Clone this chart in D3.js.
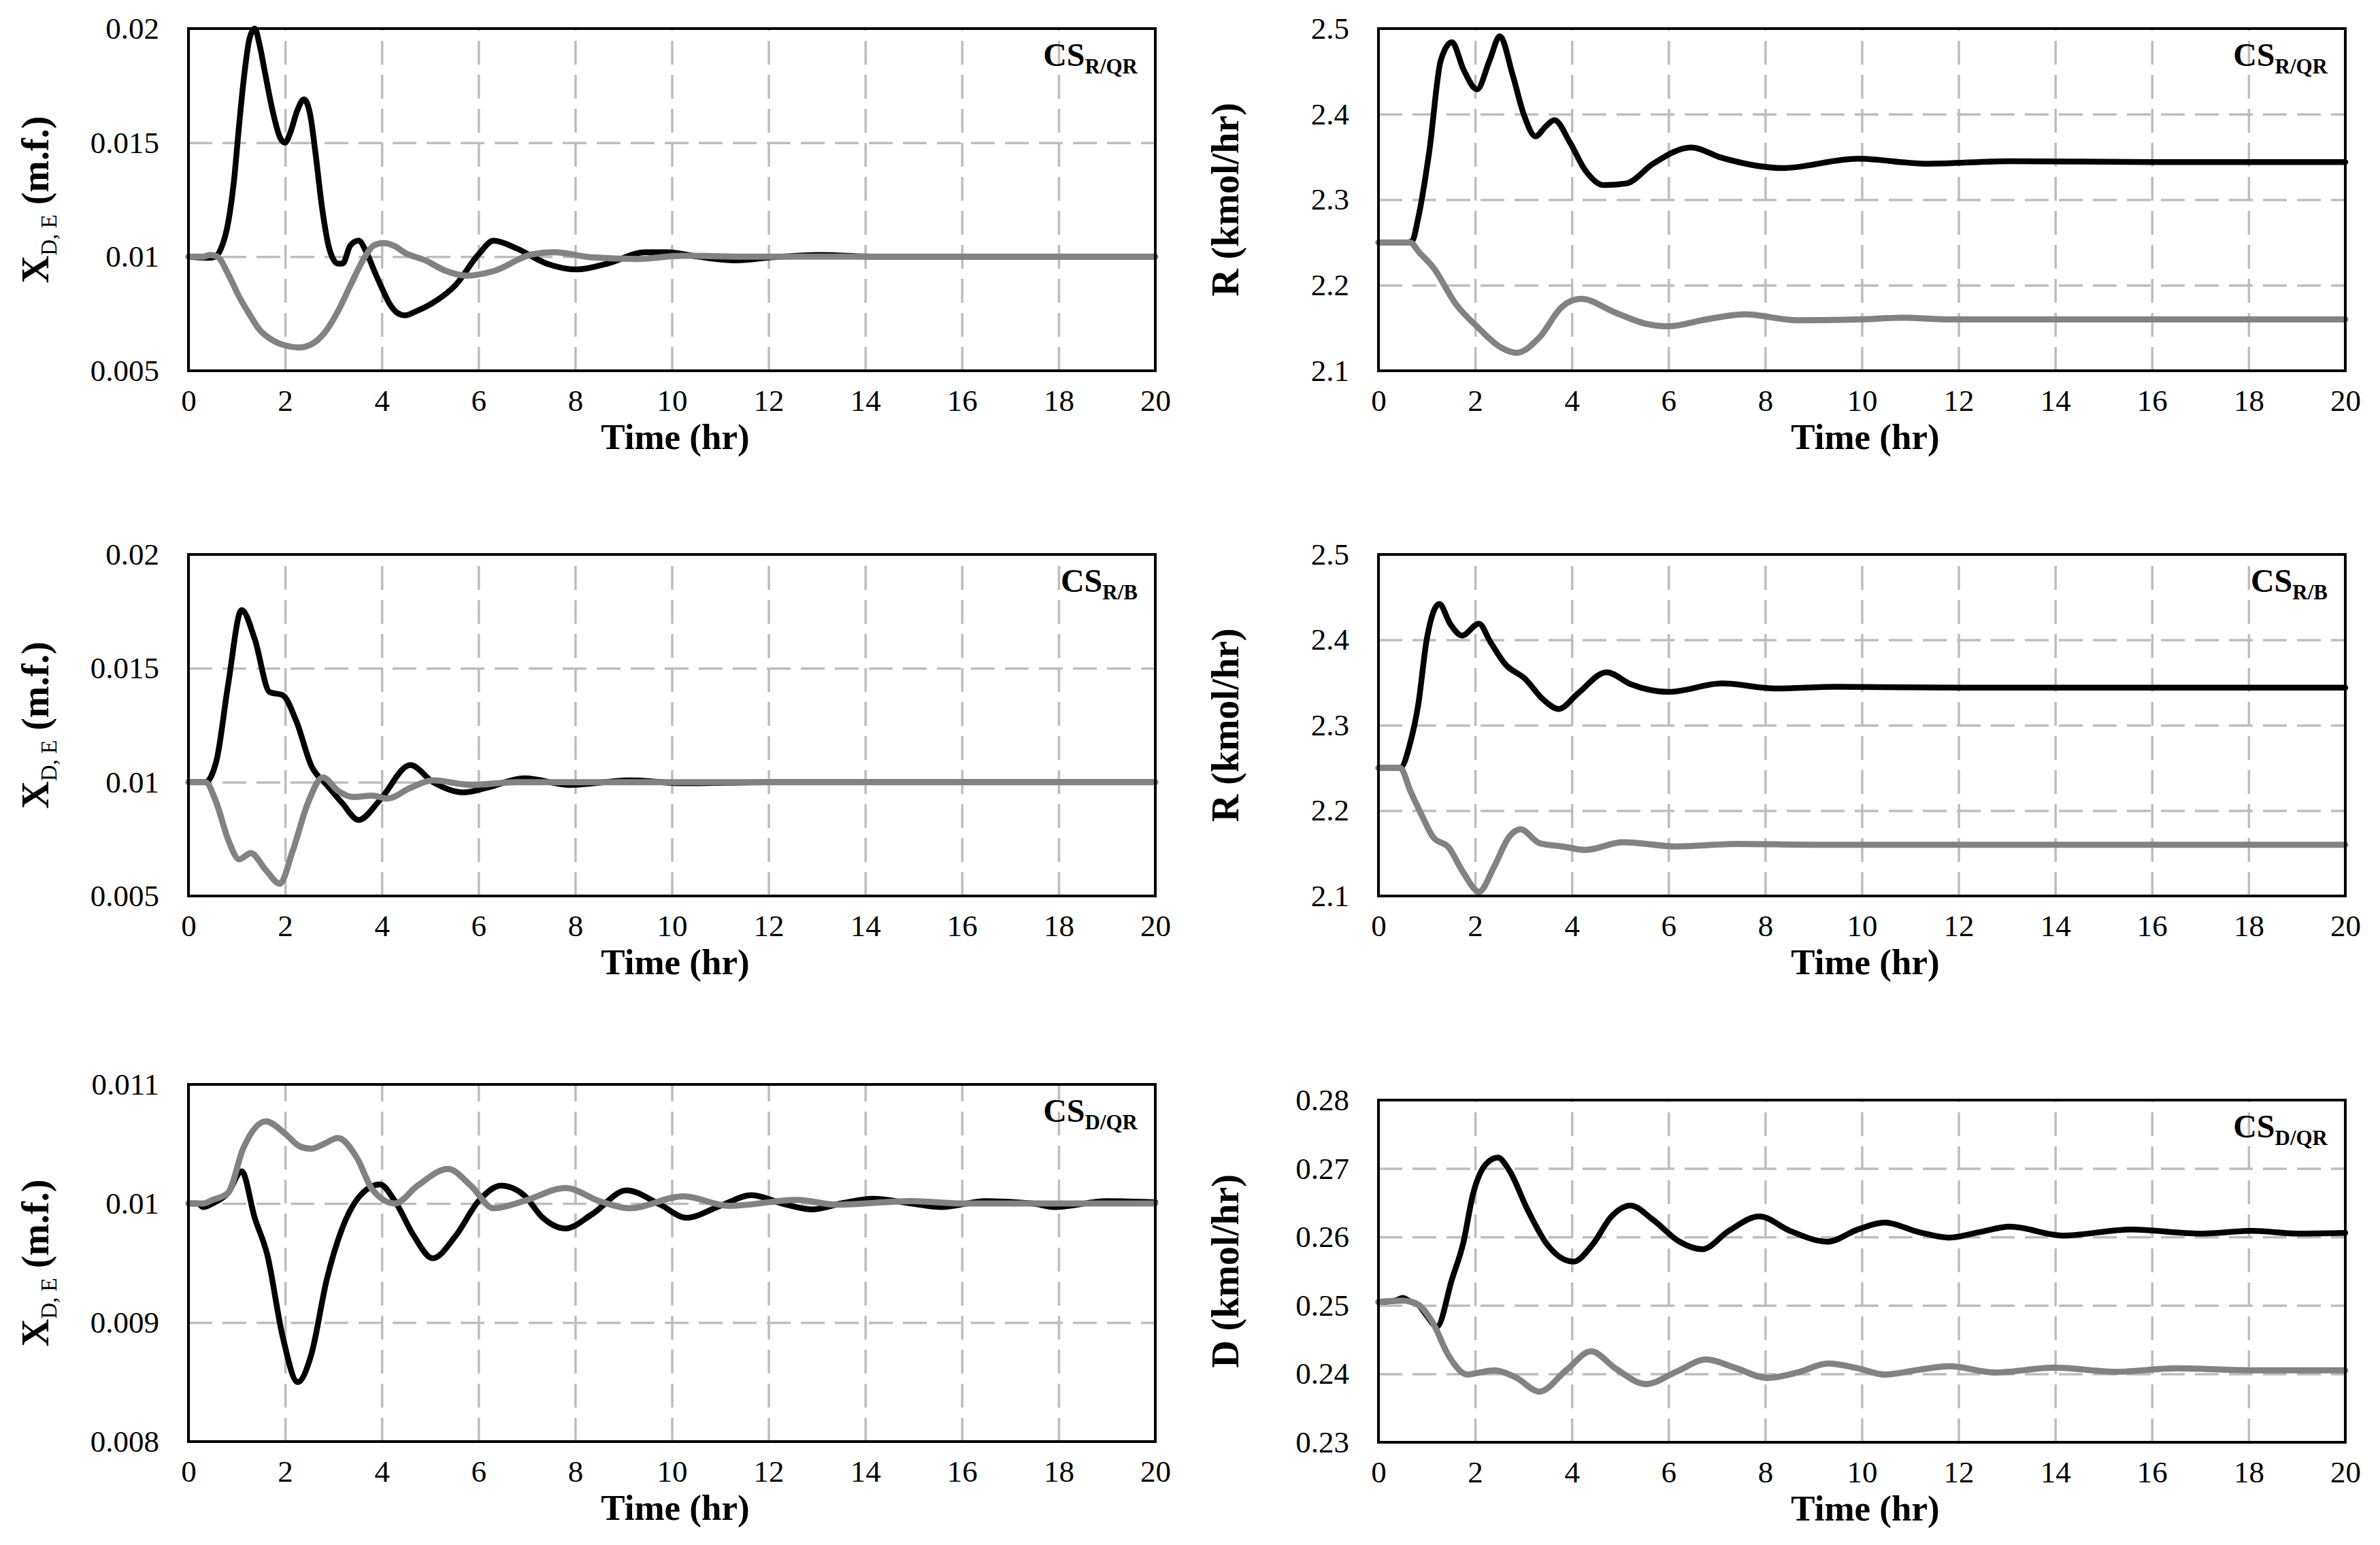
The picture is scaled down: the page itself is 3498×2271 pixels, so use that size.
<!DOCTYPE html>
<html>
<head>
<meta charset="utf-8">
<script src="https://cdn.jsdelivr.net/npm/d3@7"></script>
<style>
body { margin: 0; background: #fff; }
svg { display: block; }
</style>
</head>
<body>
<script>
// time axis ticks (hr)
var timeTicks = [0, 2, 4, 6, 8, 10, 12, 14, 16, 18, 20];

// y tick values per quantity
var xdTicks = [0.005, 0.01, 0.015, 0.02];
var rTicks = [2.1, 2.2, 2.3, 2.4, 2.5];
var xdTicksD = [0.008, 0.009, 0.01, 0.011];
var dTicks = [0.23, 0.24, 0.25, 0.26, 0.27, 0.28];

// CS R/QR : distillate impurity, [time, value]
var xdRQR_black = [[0,0.01],[0.4,0.00995],[0.55,0.01],[0.67,0.01034],[0.83,0.0116],[0.94,0.0133],[1.04,0.0156],[1.15,0.0179],[1.26,0.01954],[1.37,0.02],[1.47,0.0193],[1.58,0.0181],[1.74,0.0164],[1.9,0.0152],[2.0,0.015],[2.1,0.0154],[2.25,0.0164],[2.39,0.0169],[2.52,0.0162],[2.63,0.0145],[2.76,0.0122],[2.92,0.0103],[3.09,0.0097],[3.19,0.0097],[3.35,0.0105],[3.52,0.0107],[3.68,0.0102],[3.84,0.0094],[4.0,0.00863],[4.16,0.00794],[4.32,0.00754],[4.48,0.00743],[4.7,0.0076],[5.05,0.00797],[5.53,0.00877],[6.0,0.0101],[6.31,0.0107],[6.78,0.01037],[7.41,0.0097],[8.04,0.00944],[8.67,0.0097],[9.45,0.0102],[9.92,0.0102],[10.55,0.01],[11.33,0.00984],[12.1,0.00998],[13.06,0.01008],[14.2,0.01],[16,0.01],[18,0.01],[20,0.01]];
var xdRQR_gray = [[0,0.01],[0.3,0.01],[0.45,0.01008],[0.6,0.01],[0.83,0.0092],[1.04,0.00828],[1.26,0.00748],[1.47,0.0068],[1.74,0.00634],[2.0,0.00611],[2.28,0.00602],[2.55,0.00617],[2.82,0.00668],[3.09,0.0076],[3.35,0.00874],[3.62,0.00989],[3.84,0.0105],[4.03,0.0106],[4.27,0.01046],[4.48,0.01017],[4.9,0.00984],[5.3,0.0094],[5.76,0.00917],[6.31,0.00937],[7.1,0.0101],[7.57,0.0102],[8.35,0.00997],[9.3,0.0099],[10.2,0.01004],[11.8,0.01],[14,0.01],[20,0.01]];

// CS R/QR : reflux
var rRQR_black = [[0,2.25],[0.6,2.25],[0.7,2.252],[0.82,2.278],[1.05,2.356],[1.29,2.463],[1.52,2.484],[1.76,2.452],[2.04,2.429],[2.3,2.463],[2.51,2.491],[2.78,2.445],[3.01,2.399],[3.25,2.374],[3.45,2.385],[3.64,2.393],[3.96,2.367],[4.27,2.335],[4.66,2.317],[5.13,2.319],[5.68,2.342],[6.47,2.361],[7.1,2.349],[8.35,2.337],[9.92,2.348],[11.33,2.342],[13.06,2.345],[16,2.344],[20,2.344]];
var rRQR_gray = [[0,2.25],[0.65,2.25],[0.85,2.238],[1.13,2.221],[1.6,2.178],[2.07,2.15],[2.54,2.127],[2.86,2.121],[3.33,2.139],[3.8,2.175],[4.19,2.184],[4.9,2.168],[5.53,2.155],[6.0,2.152],[6.78,2.16],[7.57,2.166],[8.67,2.159],[9.92,2.16],[10.86,2.162],[11.8,2.16],[20,2.16]];

// CS R/B : distillate impurity
var xdRB_black = [[0,0.01],[0.35,0.01],[0.58,0.01095],[0.82,0.01428],[1.1,0.01756],[1.37,0.01629],[1.68,0.01395],[1.95,0.01382],[2.23,0.01268],[2.55,0.01068],[2.86,0.00988],[3.18,0.00908],[3.52,0.00834],[3.96,0.00921],[4.59,0.01075],[5.06,0.01],[5.69,0.00955],[6.16,0.00975],[6.95,0.01017],[7.89,0.00988],[9.15,0.01008],[10.25,0.00995],[12,0.01],[20,0.01]];
var xdRB_gray = [[0,0.01],[0.35,0.01],[0.58,0.00908],[0.82,0.00748],[1.05,0.00661],[1.29,0.00688],[1.6,0.00614],[1.89,0.00554],[2.15,0.00694],[2.47,0.00908],[2.78,0.01021],[3.1,0.00961],[3.41,0.00935],[3.8,0.00941],[4.12,0.00928],[4.59,0.00975],[5.06,0.01008],[5.85,0.00988],[6.79,0.01],[20,0.01]];

// CS R/B : reflux
var rRB_black = [[0,2.25],[0.45,2.25],[0.66,2.28],[0.82,2.323],[1.0,2.401],[1.26,2.442],[1.48,2.419],[1.73,2.405],[2.08,2.419],[2.31,2.398],[2.63,2.371],[3.02,2.355],[3.41,2.33],[3.73,2.319],[4.12,2.337],[4.72,2.362],[5.22,2.348],[6.0,2.339],[7.11,2.349],[8.21,2.343],[9.47,2.345],[12,2.344],[20,2.344]];
var rRB_gray = [[0,2.25],[0.45,2.25],[0.66,2.223],[0.9,2.194],[1.13,2.169],[1.45,2.157],[1.76,2.127],[2.08,2.105],[2.39,2.134],[2.7,2.169],[2.94,2.178],[3.33,2.162],[3.8,2.158],[4.28,2.154],[5.06,2.163],[6.16,2.158],[7.42,2.161],[9,2.16],[20,2.16]];

// CS D/QR : distillate impurity
var xdDQR_black = [[0,0.01],[0.2,0.01],[0.3,0.00997],[0.5,0.01],[0.82,0.01009],[1.1,0.01027],[1.37,0.00988],[1.63,0.00957],[1.95,0.00888],[2.26,0.0085],[2.54,0.00873],[2.86,0.00936],[3.17,0.00978],[3.56,0.01007],[3.96,0.01016],[4.27,0.01002],[4.66,0.00973],[5.05,0.00954],[5.53,0.00973],[6.0,0.01002],[6.47,0.01015],[6.94,0.01007],[7.33,0.00988],[7.8,0.00979],[8.35,0.00991],[9.06,0.01011],[9.76,0.00999],[10.3,0.00988],[11.0,0.00998],[11.65,0.01007],[12.28,0.01],[12.9,0.00995],[13.5,0.01],[14.16,0.01004],[14.95,0.01],[15.57,0.00997],[16.5,0.01002],[17.46,0.01],[17.93,0.00997],[19.0,0.01002],[20,0.01001]];
var xdDQR_gray = [[0,0.01],[0.3,0.01],[0.5,0.01003],[0.82,0.01009],[1.13,0.01046],[1.6,0.01069],[1.99,0.01059],[2.3,0.01048],[2.54,0.01046],[2.8,0.0105],[3.09,0.01055],[3.49,0.01038],[3.8,0.01012],[4.27,0.01],[4.74,0.01015],[5.37,0.01029],[5.84,0.01015],[6.31,0.00996],[6.94,0.01002],[7.8,0.01013],[8.5,0.01002],[9.12,0.00996],[10.24,0.01006],[11.18,0.00998],[12.6,0.01003],[13.4,0.00999],[14.95,0.01002],[16,0.01],[20,0.01]];

// CS D/QR : distillate flow
var dDQR_black = [[0,0.2505],[0.35,0.2507],[0.5,0.2511],[0.65,0.2506],[0.82,0.2501],[1.0,0.2485],[1.21,0.2469],[1.52,0.2538],[1.76,0.2593],[1.95,0.2661],[2.23,0.2707],[2.47,0.2716],[2.7,0.2698],[3.09,0.2639],[3.49,0.2589],[4.03,0.2564],[4.43,0.2589],[4.82,0.263],[5.21,0.2646],[5.68,0.2625],[6.23,0.2593],[6.7,0.2582],[7.25,0.2609],[7.88,0.263],[8.51,0.2609],[9.29,0.2593],[9.92,0.2611],[10.47,0.2621],[11.18,0.2607],[11.81,0.2599],[12.43,0.2607],[13.06,0.2615],[14.16,0.2602],[15.57,0.2611],[16.99,0.2605],[18.1,0.2609],[19.0,0.2605],[20,0.2606]];
var dDQR_gray = [[0,0.2505],[0.5,0.2507],[0.82,0.2501],[1.13,0.2474],[1.44,0.2428],[1.84,0.2399],[2.1,0.2402],[2.39,0.2405],[2.6,0.2402],[2.86,0.2394],[3.33,0.2374],[3.88,0.2405],[4.4,0.2433],[4.9,0.2408],[5.53,0.2385],[6.16,0.2403],[6.78,0.2421],[7.41,0.2408],[8.04,0.2394],[8.67,0.2402],[9.3,0.2415],[9.92,0.2408],[10.47,0.2399],[11.18,0.2406],[11.81,0.2411],[12.75,0.2402],[14.0,0.2409],[15.26,0.2403],[16.5,0.2408],[18.1,0.2405],[20,0.2405]];

var SERIF = '"Liberation Serif", "Times New Roman", serif';

var panels = [
    {left: 277,  right: 1698, top: 42,   bottom: 545,  ticks: xdTicks,  title: "xd", tag: "R/QR", black: xdRQR_black, gray: xdRQR_gray},
    {left: 2026, right: 3447, top: 42,   bottom: 545,  ticks: rTicks,   title: "R",  tag: "R/QR", black: rRQR_black,  gray: rRQR_gray},
    {left: 277,  right: 1698, top: 815,  bottom: 1317, ticks: xdTicks,  title: "xd", tag: "R/B",  black: xdRB_black,  gray: xdRB_gray},
    {left: 2026, right: 3447, top: 815,  bottom: 1317, ticks: rTicks,   title: "R",  tag: "R/B",  black: rRB_black,   gray: rRB_gray},
    {left: 277,  right: 1698, top: 1594, bottom: 2119, ticks: xdTicksD, title: "xd", tag: "D/QR", black: xdDQR_black, gray: xdDQR_gray},
    {left: 2026, right: 3447, top: 1617, bottom: 2120, ticks: dTicks,   title: "D",  tag: "D/QR", black: dDQR_black,  gray: dDQR_gray}
];

var W = 3498, H = 2271;
var svg = d3.select("body").append("svg")
    .attr("width", W)
    .attr("height", H);

svg.append("rect").attr("width", W).attr("height", H).attr("fill", "#fff");

function fmt(d) { return String(+d.toFixed(4)); }

function drawPanel(p) {
    var w = p.right - p.left, h = p.bottom - p.top;
    var x = d3.scaleLinear().domain([0, 20]).range([p.left, p.right]);
    var y = d3.scaleLinear().domain([p.ticks[0], p.ticks[p.ticks.length - 1]]).range([p.bottom, p.top]);
    var g = svg.append("g");

    // dashed grid
    var gx = g.append("g")
        .attr("transform", "translate(0," + p.bottom + ")")
        .call(d3.axisBottom(x).tickValues(timeTicks.slice(1, -1)).tickSize(-h).tickFormat(""));
    var gy = g.append("g")
        .attr("transform", "translate(" + p.left + ",0)")
        .call(d3.axisLeft(y).tickValues(p.ticks.slice(1, -1)).tickSize(-w).tickFormat(""));
    [gx, gy].forEach(function (s) {
        s.select(".domain").remove();
        s.selectAll("line")
            .attr("stroke", "#bdbdbd")
            .attr("stroke-width", 3.5)
            .attr("stroke-dasharray", "35,15");
    });

    // curves
    var line = d3.line()
        .x(function (d) { return x(d[0]); })
        .y(function (d) { return y(d[1]); })
        .curve(d3.curveMonotoneX);

    g.append("path").datum(p.black)
        .attr("d", line).attr("fill", "none")
        .attr("stroke", "#000").attr("stroke-width", 8.5)
        .attr("stroke-linejoin", "round").attr("stroke-linecap", "round");
    g.append("path").datum(p.gray)
        .attr("d", line).attr("fill", "none")
        .attr("stroke", "#828282").attr("stroke-width", 9)
        .attr("stroke-linejoin", "round").attr("stroke-linecap", "round");

    // frame
    g.append("rect")
        .attr("x", p.left).attr("y", p.top)
        .attr("width", w).attr("height", h)
        .attr("fill", "none").attr("stroke", "#000").attr("stroke-width", 4);

    // tick labels
    var ax = g.append("g")
        .attr("transform", "translate(0," + p.bottom + ")")
        .call(d3.axisBottom(x).tickValues(timeTicks).tickSize(0).tickPadding(27));
    var ay = g.append("g")
        .attr("transform", "translate(" + p.left + ",0)")
        .call(d3.axisLeft(y).tickValues(p.ticks).tickSize(0).tickPadding(43).tickFormat(fmt));
    [ax, ay].forEach(function (s) {
        s.select(".domain").remove();
        s.attr("font-family", SERIF).attr("font-size", 45);
        s.selectAll("text").attr("fill", "#000");
    });

    // x title
    g.append("text")
        .attr("x", (p.left + p.right) / 2 + 5)
        .attr("y", p.bottom + 115)
        .attr("text-anchor", "middle")
        .attr("font-family", SERIF)
        .attr("font-size", 53)
        .attr("font-weight", "bold")
        .text("Time (hr)");

    // y title
    var yt = g.append("text")
        .attr("transform", "translate(" + (p.left - 206) + "," + ((p.top + p.bottom) / 2) + ") rotate(-90)")
        .attr("text-anchor", "middle")
        .attr("font-family", SERIF)
        .attr("font-size", 56)
        .attr("font-weight", "bold");
    if (p.title == "xd") {
        yt.append("tspan").text("X");
        yt.append("tspan").attr("font-size", 33).attr("font-weight", "normal").attr("dy", 12).text("D, E");
        yt.append("tspan").attr("dy", -12).text(" (m.f.)");
    } else {
        yt.append("tspan").text(p.title + " (kmol/hr)");
    }

    // control structure tag
    var tg = g.append("text")
        .attr("x", p.right - 26)
        .attr("y", p.top + 55)
        .attr("text-anchor", "end")
        .attr("font-family", SERIF)
        .attr("font-weight", "bold")
        .attr("font-size", 48);
    tg.append("tspan").text("CS");
    tg.append("tspan").attr("font-size", 31).attr("dy", 11).text(p.tag);
}

panels.forEach(drawPanel);
</script>
</body>
</html>
